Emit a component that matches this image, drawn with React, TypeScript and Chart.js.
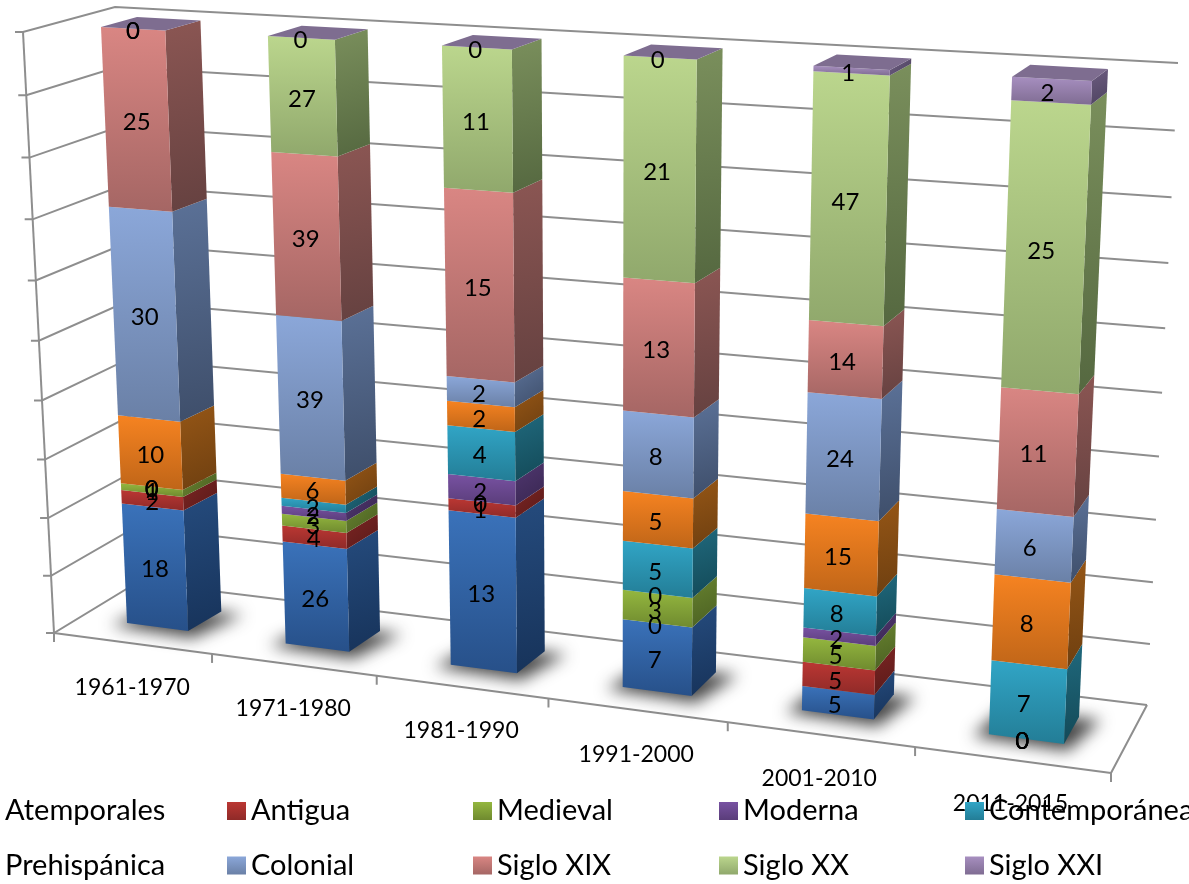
import React, { useEffect, useRef } from "react";
import { Chart, registerables } from "chart.js";

Chart.register(...registerables);

const FONT = "Lato, Carlito, sans-serif";

const categories = ["1961-1970", "1971-1980", "1981-1990", "1991-2000", "2001-2010", "2011-2015"];

const atemporales = [18, 26, 13, 7, 5, 0];
const antigua = [2, 4, 1, 0, 5, 0];
const medieval = [1, 3, 0, 3, 5, 0];
const moderna = [0, 2, 2, 0, 2, 0];
const contemporanea = [0, 2, 4, 5, 8, 7];
const prehispanica = [10, 6, 2, 5, 15, 8];
const colonial = [30, 39, 2, 8, 24, 6];
const sigloXIX = [25, 39, 15, 13, 14, 11];
const sigloXX = [0, 27, 11, 21, 47, 25];
const sigloXXI = [0, 0, 0, 0, 1, 2];

type Face = { label: string; values: number[]; front: [string, string]; side: [string, string] };

const seriesList: Face[] = [
  { label: "Atemporales", values: atemporales, front: ["#3a72ba", "#275089"], side: ["#254b7d", "#17335a"] },
  { label: "Antigua", values: antigua, front: ["#bb3733", "#8f2a28"], side: ["#7c2523", "#591a19"] },
  { label: "Medieval", values: medieval, front: ["#94b73f", "#6f8a2f"], side: ["#67822f", "#4a5f22"] },
  { label: "Moderna", values: moderna, front: ["#7852a2", "#5a3d7a"], side: ["#503770", "#382650"] },
  { label: "Contemporánea", values: contemporanea, front: ["#31a5c6", "#237d96"], side: ["#20697d", "#134957"] },
  { label: "Prehispánica", values: prehispanica, front: ["#f68321", "#bf6518"], side: ["#955616", "#6e3f10"] },
  { label: "Colonial", values: colonial, front: ["#8ba7d9", "#6a80a6"], side: ["#5b7197", "#3e4e6a"] },
  { label: "Siglo XIX", values: sigloXIX, front: ["#d98683", "#a56664"], side: ["#8b5653", "#654140"] },
  { label: "Siglo XX", values: sigloXX, front: ["#bbd68d", "#90a86c"], side: ["#7a8f5c", "#556840"] },
  { label: "Siglo XXI", values: sigloXXI, front: ["#a78fc0", "#7f6c92"], side: ["#6c5c80", "#4e4360"] },
];

const totals = categories.map((_, i) => seriesList.reduce((s, d) => s + d.values[i], 0));

type P = [number, number];
// plane corners on the page, order: bottom-left, bottom-right, top-right, top-left
const WALL_FRONT: P[] = [[54, 633], [1111, 773], [1144, 93], [23, 32]];
const WALL_BACK: P[] = [[138, 582], [1147, 705], [1178, 63], [115, 7]];
const BAR_FRONT: P[] = [[127, 623], [1064, 744], [1092, 81], [101, 27]];
const BAR_BACK: P[] = [[161, 604], [1079, 717], [1108, 69], [137, 17]];

function homography(q: P[]) {
  const [[x0, y0], [x1, y1], [x2, y2], [x3, y3]] = q;
  const dx1 = x1 - x2, dx2 = x3 - x2, dx3 = x0 - x1 + x2 - x3;
  const dy1 = y1 - y2, dy2 = y3 - y2, dy3 = y0 - y1 + y2 - y3;
  const den = dx1 * dy2 - dx2 * dy1;
  const g = (dx3 * dy2 - dx2 * dy3) / den;
  const h = (dx1 * dy3 - dx3 * dy1) / den;
  const a = x1 - x0 + g * x1, b = x3 - x0 + h * x3;
  const d = y1 - y0 + g * y1, e = y3 - y0 + h * y3;
  return (u: number, v: number): P => {
    const w = g * u + h * v + 1;
    return [(a * u + b * v + x0) / w, (d * u + e * v + y0) / w];
  };
}

const wallFront = homography(WALL_FRONT);
const wallBack = homography(WALL_BACK);
const barFront = homography(BAR_FRONT);
const barBack = homography(BAR_BACK);

function poly(ctx: CanvasRenderingContext2D, pts: P[]) {
  ctx.beginPath();
  pts.forEach((p, i) => (i ? ctx.lineTo(p[0], p[1]) : ctx.moveTo(p[0], p[1])));
  ctx.closePath();
}

function line(ctx: CanvasRenderingContext2D, a: P, b: P) {
  ctx.beginPath();
  ctx.moveTo(a[0], a[1]);
  ctx.lineTo(b[0], b[1]);
  ctx.stroke();
}

const GRID = "#8e8e8e";

const scene3d = {
  id: "scene3d",
  beforeDatasetsDraw(chart: any) {
    const ctx: CanvasRenderingContext2D = chart.ctx;
    const area = chart.chartArea;
    const xs = chart.scales.x;
    const ys = chart.scales.y;
    const W = area.right - area.left;
    const H = area.bottom - area.top;
    const vOf = (py: number) => (area.bottom - py) / H;

    ctx.save();
    ctx.lineCap = "butt";
    ctx.strokeStyle = GRID;
    ctx.lineWidth = 2;

    // walls and floor from the value scale's ticks
    ys.ticks.forEach((t: any) => {
      const v = vOf(ys.getPixelForValue(t.value));
      const a = wallFront(0, v), b = wallBack(0, v), c = wallBack(1, v);
      ctx.beginPath();
      ctx.moveTo(a[0] - 8, a[1]);
      ctx.lineTo(a[0], a[1]);
      ctx.lineTo(b[0], b[1]);
      ctx.lineTo(c[0], c[1]);
      ctx.stroke();
    });
    line(ctx, wallFront(0, 0), wallFront(0, 1));
    line(ctx, wallFront(0, 0), wallFront(1, 0));
    line(ctx, wallFront(1, 0), wallBack(1, 0));

    // category axis ticks
    const n = categories.length;
    for (let i = 0; i <= n; i++) {
      const p = wallFront(i / n, 0);
      line(ctx, p, [p[0], p[1] + 9]);
    }

    // category labels
    ctx.fillStyle = "#000";
    ctx.font = `23px ${FONT}`;
    ctx.textAlign = "center";
    ctx.textBaseline = "middle";
    categories.forEach((c, i) => {
      const p = wallFront((xs.getPixelForValue(i) - area.left) / W, 0);
      ctx.fillText(c, p[0] - i * 0.3, p[1] + 44);
    });

    // bars
    const metas = chart.data.datasets.map((_: any, i: number) => chart.getDatasetMeta(i));
    const first = metas[0].data;
    const bw = first[0].width;
    const uL = first[0].x - bw / 2;
    const uR = first[first.length - 1].x + bw / 2;
    const uOf = (px: number) => (px - uL) / (uR - uL);

    // floor shadows
    first.forEach((el: any) => {
      const l = uOf(el.x - bw / 2), r = uOf(el.x + bw / 2);
      const a = barFront(l, 0), b = barFront(r, 0), c = barBack(r, 0), d = barBack(l, 0);
      ctx.save();
      ctx.filter = "blur(8px)";
      ctx.fillStyle = "rgba(25,25,25,0.8)";
      poly(ctx, [
        [a[0] - 16, a[1] + 2],
        [b[0] + 4, b[1] + 7],
        [c[0] + 22, c[1] + 3],
        [d[0] - 4, d[1] + 2],
      ]);
      ctx.fill();
      ctx.restore();
    });

    first.forEach((_: any, c: number) => {
      metas.forEach((m: any, s: number) => {
        const el = m.data[c];
        const st = seriesList[s];
        const l = uOf(el.x - bw / 2), r = uOf(el.x + bw / 2);
        const v0 = vOf(el.base), v1 = vOf(el.y);
        const fb = barFront(r, v0), ft = barFront(r, v1), bb = barBack(r, v0), bt = barBack(r, v1);
        if (v1 - v0 > 1e-6) {
          const sg = ctx.createLinearGradient(ft[0], Math.min(ft[1], bt[1]), bb[0], Math.max(fb[1], bb[1]));
          sg.addColorStop(0, st.side[0]);
          sg.addColorStop(1, st.side[1]);
          ctx.fillStyle = sg;
          poly(ctx, [fb, bb, bt, ft]);
          ctx.fill();
          const fl = barFront(l, v0), tl = barFront(l, v1);
          const g = ctx.createLinearGradient(0, Math.min(tl[1], ft[1]), 0, Math.max(fl[1], fb[1]));
          g.addColorStop(0, st.front[0]);
          g.addColorStop(1, st.front[1]);
          ctx.fillStyle = g;
          poly(ctx, [fl, fb, ft, tl]);
          ctx.fill();
        }
      });
      // cap of the stack
      const lastEl = metas[metas.length - 1].data[c];
      const l = uOf(lastEl.x - bw / 2), r = uOf(lastEl.x + bw / 2);
      const v = vOf(lastEl.y);
      ctx.fillStyle = "#7e6d90";
      poly(ctx, [barFront(l, v), barFront(r, v), barBack(r, v), barBack(l, v)]);
      ctx.fill();
    });

    // value labels
    ctx.fillStyle = "#000";
    ctx.font = `24px ${FONT}`;
    metas.forEach((m: any, s: number) => {
      m.data.forEach((el: any, c: number) => {
        const p = barFront(uOf(el.x), (vOf(el.base) + vOf(el.y)) / 2);
        ctx.fillText(String(seriesList[s].values[c]), p[0] - c * 0.8, p[1] + 2.5);
      });
    });

    // legend: two rows of five equal columns, starting just off the left edge
    ctx.textAlign = "left";
    ctx.font = `29px ${FONT}`;
    chart.data.datasets.forEach((d: any, i: number) => {
      const col = i % 5;
      const row = Math.floor(i / 5);
      const sx = -19 + 246 * col;
      const sy = 802 + 54.5 * row;
      const g = ctx.createLinearGradient(0, sy, 0, sy + 18);
      g.addColorStop(0, seriesList[i].front[0]);
      g.addColorStop(1, seriesList[i].front[1]);
      ctx.fillStyle = g;
      ctx.fillRect(sx, sy, 19, 18);
      ctx.fillStyle = "#000";
      ctx.fillText(d.label, sx + 24, sy + 9);
    });
    ctx.restore();
    return false;
  },
};

export default function App() {
  const ref = useRef<HTMLCanvasElement>(null);
  useEffect(() => {
    document.body.style.margin = "0";
    const chart = new Chart(ref.current as HTMLCanvasElement, {
      type: "bar",
      data: {
        labels: categories,
        datasets: seriesList.map((s) => ({
          label: s.label,
          data: s.values.map((v, i) => v / totals[i]),
          backgroundColor: s.front[0],
          barPercentage: 0.39,
          categoryPercentage: 1,
        })),
      },
      options: {
        responsive: false,
        animation: false,
        layout: { padding: 0 },
        plugins: { legend: { display: false }, tooltip: { enabled: false } },
        scales: {
          x: { stacked: true, display: false },
          y: { stacked: true, display: false, min: 0, max: 1, ticks: { stepSize: 0.1 } },
        },
      },
      plugins: [scene3d],
    } as any);
    return () => chart.destroy();
  }, []);
  return <canvas ref={ref} width={1189} height={884} style={{ display: "block" }} />;
}
